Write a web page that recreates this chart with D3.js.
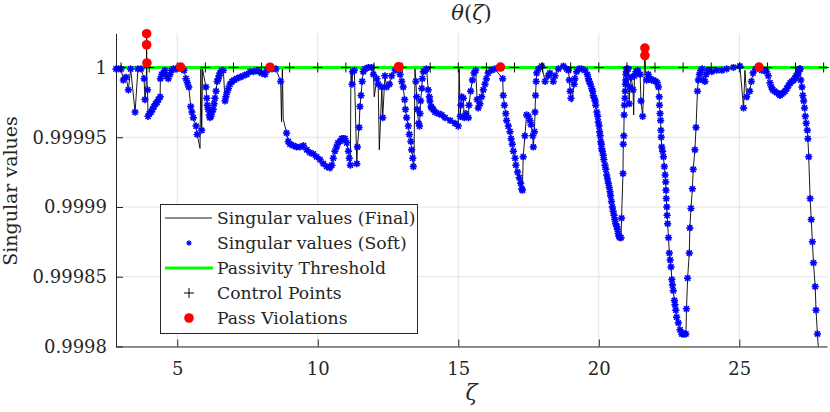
<!DOCTYPE html>
<html><head><meta charset="utf-8">
<script src="https://cdn.jsdelivr.net/npm/d3@7"></script>
<style>
html,body{margin:0;padding:0;background:#fff;}
svg{display:block;}
text{font-family:'DejaVu Serif',serif;fill:#262626;}
</style></head>
<body>
<svg id="c" width="830" height="412"></svg>
<script>
// ---- data ----
const xTicks = [5, 10, 15, 20, 25];
const yTicks = [0.9998, 0.99985, 0.9999, 0.99995, 1];
const yTickLabels = ["0.9998", "0.99985", "0.9999", "0.99995", "1"];
const threshold = 1;
const controlZeta = [3,4,5,6,7,8,9,10,11,12,13,14,15,16,17,18,19,20,21,22,23,24,25,26,27,28];
const violationZeta = [3.91, 3.91, 3.92, 5.12, 8.30, 12.87, 12.90, 16.50, 21.64, 21.64, 25.70];
const violationVal  = [1.0000242, 1.0000163, 1.0000032, 1.0000003, 1.0000002, 1.0000004, 1.0000002, 1.0000003, 1.0000139, 1.0000086, 1.0000003];
// Singular values (Soft) — marker points [zeta, value]
const softPts = [
[2.82,0.999999],[2.91,0.999999],[3.00,0.999999],[3.08,0.999991],[3.18,0.999993],[3.26,0.999984],[3.34,0.999999],[3.50,0.999968],[3.60,0.999999],[3.71,0.999999],[3.82,0.999992],[3.85,0.999977],
[3.94,0.999984],[3.96,0.999965],[4.01,0.999967],[4.07,0.999968],[4.12,0.999970],[4.17,0.999972],[4.23,0.999974],[4.28,0.999975],[4.33,0.999977],[4.39,0.999979],[4.40,0.999992],[4.45,0.999995],[4.50,0.999996],[4.56,0.999998],[4.62,0.999994],[4.68,0.999992],[4.74,0.999995],[4.80,0.999998],[4.86,0.999999],[4.95,0.999999],[5.06,1.000000],[5.17,0.999999],
[5.24,0.999998],[5.31,0.999992],[5.36,0.999989],[5.41,0.999986],[5.48,0.999972],[5.52,0.999968],[5.57,0.999964],[5.67,0.999958],[5.71,0.999952],[5.87,0.999955],[6.02,0.999986],[6.05,0.999978],[6.07,0.999973],[6.10,0.999970],[6.14,0.999966],[6.16,0.999964],[6.20,0.999965],[6.24,0.999968],[6.28,0.999970],[6.31,0.999974],[6.34,0.999978],[6.38,0.999983],[6.42,0.999990],[6.46,0.999992],[6.49,0.999994],[6.52,0.999996],[6.58,0.999998],[6.64,0.999998],
[6.70,0.999976],[6.73,0.999979],[6.77,0.999982],[6.82,0.999985],[6.88,0.999988],[6.95,0.999990],[7.02,0.999991],[7.11,0.999992],[7.23,0.999993],[7.34,0.999994],[7.47,0.999995],[7.59,0.999997],[7.71,0.999997],[7.83,0.999998],[7.91,0.999997],[8.00,0.999996],[8.12,0.999995],[8.19,0.999998],[8.37,0.999999],[8.51,0.999999],
[8.68,0.999990],[8.89,0.999953],[8.95,0.999947],[9.01,0.999945],[9.13,0.999944],[9.25,0.999943],[9.37,0.999943],[9.49,0.999944],[9.61,0.999941],[9.72,0.999939],[9.84,0.999938],[9.96,0.999936],[10.08,0.999934],[10.20,0.999931],[10.32,0.999929],[10.43,0.999928],[10.50,0.999930],[10.55,0.999935],[10.61,0.999940],[10.67,0.999943],[10.72,0.999946],[10.79,0.999947],[10.85,0.999949],[10.91,0.999949],[10.97,0.999949],[11.03,0.999946],[11.09,0.999940],[11.12,0.999935],[11.16,0.999930],
[11.22,0.999988],[11.24,0.999997],[11.30,0.999998],[11.39,0.999931],[11.41,0.999943],[11.47,0.999957],[11.50,0.999972],[11.54,0.999980],[11.58,0.999990],[11.62,0.999997],[11.68,0.999999],[11.80,1.000000],[11.92,1.000000],[11.98,0.999995],[12.10,0.999992],[12.15,0.999988],[12.28,0.999986],[12.31,0.999964],[12.39,0.999994],[12.45,0.999986],[12.55,0.999988],[12.63,0.999994],[12.75,0.999998],
[12.93,0.999995],[12.99,0.999990],[13.04,0.999986],[13.09,0.999977],[13.12,0.999970],[13.16,0.999964],[13.22,0.999958],[13.26,0.999952],[13.31,0.999947],[13.34,0.999941],[13.38,0.999935],[13.40,0.999929],[13.49,0.999990],[13.52,0.999979],[13.54,0.999970],[13.59,0.999960],[13.62,0.999958],[13.64,0.999967],[13.66,0.999976],[13.70,0.999985],[13.72,0.999992],[13.76,0.999997],[13.82,0.999998],[13.87,0.999999],
[13.93,0.999984],[13.97,0.999979],[13.99,0.999976],[14.03,0.999972],[14.05,0.999971],[14.11,0.999970],[14.17,0.999968],[14.29,0.999967],[14.41,0.999966],[14.53,0.999964],[14.71,0.999962],[14.88,0.999960],[15.00,0.999958],[15.07,0.999965],[15.09,0.999973],[15.12,0.999979],[15.18,0.999978],[15.21,0.999964],[15.27,0.999967],[15.36,0.999964],[15.38,0.999973],[15.44,0.999983],[15.50,0.999991],[15.56,0.999996],[15.62,0.999998],[15.67,0.999977],[15.71,0.999971],[15.77,0.999974],[15.83,0.999979],[15.89,0.999984],[15.95,0.999988],[16.00,0.999992],[16.06,0.999996],[16.18,0.999998],[16.30,0.999999],
[16.58,0.999992],[16.60,0.999980],[16.64,0.999973],[16.69,0.999967],[16.72,0.999962],[16.78,0.999958],[16.84,0.999954],[16.88,0.999949],[16.92,0.999945],[16.96,0.999940],[17.02,0.999935],[17.05,0.999930],[17.11,0.999925],[17.17,0.999921],[17.22,0.999917],[17.26,0.999913],[17.28,0.999912],[17.31,0.999936],[17.37,0.999951],[17.43,0.999966],[17.49,0.999965],[17.55,0.999962],[17.59,0.999959],[17.65,0.999951],[17.67,0.999943],[17.71,0.999954],[17.73,0.999968],[17.75,0.999980],[17.77,0.999990],[17.79,0.999996],[17.85,0.999999],[17.97,1.000001],[18.09,0.999990],[18.20,0.999994],[18.26,0.999996],[18.38,0.999990],[18.44,0.999994],[18.56,0.999999],[18.74,1.000001],[18.86,0.999999],[18.92,0.999998],[18.95,0.999991],[18.98,0.999983],[19.01,0.999978],[19.12,0.999988],[19.15,0.999992],[19.21,0.999997],[19.30,0.999999],[19.39,0.999999],[19.51,0.999998],
[19.59,0.999995],[19.63,0.999992],[19.66,0.999990],[19.70,0.999988],[19.75,0.999985],[19.78,0.999983],[19.80,0.999980],[19.84,0.999978],[19.87,0.999976],[19.89,0.999973],[19.93,0.999968],[19.96,0.999965],[19.98,0.999961],[20.01,0.999958],[20.03,0.999954],[20.05,0.999951],[20.07,0.999947],[20.09,0.999945],[20.10,0.999942],[20.13,0.999940],[20.16,0.999937],[20.18,0.999934],[20.22,0.999930],[20.25,0.999927],[20.28,0.999923],[20.31,0.999920],[20.34,0.999917],[20.37,0.999914],[20.40,0.999911],[20.42,0.999908],[20.45,0.999904],[20.48,0.999900],[20.51,0.999897],[20.54,0.999894],[20.57,0.999891],[20.60,0.999888],[20.64,0.999886],[20.66,0.999884],[20.69,0.999881],[20.72,0.999879],[20.75,0.999878],[20.79,0.999878],[20.81,0.999892],[20.86,0.999924],[20.87,0.999945],[20.89,0.999951],[20.90,0.999966],[20.91,0.999973],[20.93,0.999978],[20.94,0.999983],[20.95,0.999988],[20.96,0.999991],[20.97,0.999995],[20.98,0.999997],[21.00,0.999999],[21.04,0.999999],
[21.08,0.999974],[21.10,0.999986],[21.15,0.999993],[21.22,0.999984],[21.27,0.999994],[21.32,0.999997],[21.39,0.999998],[21.47,0.999995],[21.50,0.999976],[21.56,0.999965],[21.70,0.999991],[21.76,0.999995],[21.82,0.999992],[21.88,0.999991],[21.94,0.999991],[22.03,0.999990],[22.08,0.999989],[22.12,0.999986],
[22.15,0.999979],[22.16,0.999973],[22.18,0.999967],[22.20,0.999962],[22.21,0.999955],[22.22,0.999950],[22.24,0.999943],[22.27,0.999940],[22.30,0.999936],[22.33,0.999929],[22.36,0.999923],[22.38,0.999918],[22.39,0.999912],[22.40,0.999906],[22.42,0.999900],[22.43,0.999894],[22.45,0.999888],[22.48,0.999878],[22.51,0.999867],[22.54,0.999862],[22.57,0.999857],[22.60,0.999848],[22.62,0.999844],[22.65,0.999840],[22.69,0.999833],[22.71,0.999830],[22.74,0.999826],[22.77,0.999821],[22.83,0.999817],[22.89,0.999812],[22.95,0.999809],[23.00,0.999809],[23.04,0.999809],[23.10,0.999809],[23.12,0.999827],[23.16,0.999849],[23.22,0.999867],[23.24,0.999885],[23.28,0.999899],[23.33,0.999913],[23.36,0.999927],[23.42,0.999941],[23.46,0.999957],[23.51,0.999983],[23.54,0.999991],[23.58,0.999995],[23.63,0.999998],[23.68,0.999999],[23.72,0.999991],[23.78,0.999990],[23.82,0.999995],[23.90,0.999998],[24.02,0.999997],[24.20,0.999998],[24.38,0.999998],[24.55,0.999999],[24.79,1.000000],[25.02,1.000001],
[25.15,0.999971],[25.26,0.999979],[25.37,0.999983],[25.43,0.999990],[25.49,0.999996],[25.58,0.999999],[25.80,0.999998],[25.88,0.999998],[25.97,0.999997],[26.03,0.999994],[26.09,0.999989],[26.14,0.999986],[26.19,0.999984],[26.25,0.999983],[26.33,0.999982],[26.40,0.999981],[26.45,0.999980],[26.51,0.999981],[26.57,0.999982],[26.63,0.999983],[26.69,0.999985],[26.75,0.999987],[26.81,0.999989],[26.87,0.999990],[26.93,0.999991],[26.98,0.999992],[27.02,0.999994],[27.07,0.999995],[27.11,0.999997],[27.14,0.999999],[27.17,0.999999],[27.19,0.999991],[27.23,0.999986],[27.26,0.999980],[27.29,0.999976],[27.32,0.999971],[27.35,0.999965],[27.38,0.999960],[27.42,0.999955],[27.44,0.999949],[27.47,0.999936],[27.52,0.999906],[27.56,0.999891],[27.60,0.999875],[27.64,0.999860],[27.70,0.999843],[27.73,0.999826],[27.78,0.999809]
];
// Singular values (Final) — points where the final curve departs from the soft markers
const finalExtraPts = [
[3.90,0.999990],[3.91,1.0000242],[3.92,0.999992],
[5.81,0.999942],[5.84,0.999999],[5.90,0.999999],
[8.71,0.999961],[8.74,0.999999],[8.77,0.999963],
[11.18,0.999999],
[12.01,0.999979],[12.19,0.999941],
[13.42,0.999927],[13.46,0.999999],
[15.03,0.999999],
[19.04,0.999975],
[21.24,0.999966],[21.62,0.999998],[21.64,1.000014],[21.66,0.999998],
[25.20,0.999998],[25.31,0.999977],
[27.82,0.999797]
];

// ---- layout ----
const L = 116, R = 827, T = 33.3, B = 346.5;
const x = d3.scaleLinear().domain([2.82, 28.12]).range([L, R]);
const y = d3.scaleLinear().domain([0.9998, 1.0000245]).range([B, T]);
const svg = d3.select('#c');

svg.append('defs').append('clipPath').attr('id','clip')
  .append('rect').attr('x', L).attr('y', T).attr('width', R - L).attr('height', B - T);

// grid
const grid = svg.append('g').attr('stroke', '#e3e3e3').attr('stroke-width', 1);
grid.selectAll('line.v').data(xTicks).join('line').attr('class','v')
  .attr('x1', d => x(d)).attr('x2', d => x(d)).attr('y1', T).attr('y2', B);
grid.selectAll('line.h').data(yTicks).join('line').attr('class','h')
  .attr('x1', L).attr('x2', R).attr('y1', d => y(d)).attr('y2', d => y(d));

// axes
const fs = 18;
const ax = svg.append('g').attr('transform', `translate(0,${B})`)
  .call(d3.axisBottom(x).tickValues(xTicks).tickFormat(d3.format('d')).tickSizeInner(-7).tickSizeOuter(0).tickPadding(15.5));
const ay = svg.append('g').attr('transform', `translate(${L},0)`)
  .call(d3.axisLeft(y).tickValues(yTicks).tickFormat((d, i) => yTickLabels[i]).tickSizeInner(-7).tickSizeOuter(0).tickPadding(9));
[ax, ay].forEach(g => {
  g.select('.domain').attr('stroke', '#262626').attr('stroke-width', 1);
  g.selectAll('.tick line').attr('stroke', '#262626').attr('stroke-width', 1);
  g.selectAll('.tick text').attr('font-family', "'DejaVu Serif', serif").attr('font-size', fs).attr('fill', '#262626');
});

// threshold
svg.append('line').attr('x1', L).attr('x2', R).attr('y1', y(threshold)).attr('y2', y(threshold))
  .attr('stroke', '#00ff00').attr('stroke-width', 3);

// final line
const finalPts = softPts.concat(finalExtraPts).slice().sort((a, b) => a[0] - b[0]);
const line = d3.line().x(d => x(d[0])).y(d => y(d[1]));
svg.append('path').datum(finalPts).attr('d', line).attr('clip-path', 'url(#clip)')
  .attr('fill', 'none').attr('stroke', '#000').attr('stroke-width', 0.9).attr('stroke-linejoin', 'round');

// soft markers (asterisks)
const star = 'M0,-3.6V3.6M-3.6,0H3.6M-2.6,-2.6L2.6,2.6M-2.6,2.6L2.6,-2.6';
const mk = svg.append('g');
mk.selectAll('circle').data(softPts).join('circle')
  .attr('cx', d => x(d[0])).attr('cy', d => y(d[1])).attr('r', 3.2)
  .attr('fill', '#6b6bff').attr('fill-opacity', 0.35);
mk.selectAll('path').data(softPts).join('path')
  .attr('transform', d => `translate(${x(d[0])},${y(d[1])})`)
  .attr('d', star).attr('fill', 'none').attr('stroke', '#0000ff').attr('stroke-width', 1.5);

// control points
const plus = 'M-5,0H5M0,-5V5';
svg.append('g').selectAll('path').data(controlZeta).join('path')
  .attr('transform', d => `translate(${x(d)},${y(threshold)})`)
  .attr('d', plus).attr('stroke', '#000').attr('stroke-width', 1);

// violations
svg.append('g').selectAll('circle').data(violationZeta).join('circle')
  .attr('cx', d => x(d)).attr('cy', (d, i) => y(violationVal[i])).attr('r', 4.8).attr('fill', '#ff0000');

// title and labels
const title = svg.append('text').attr('x', (L + R) / 2).attr('y', 20).attr('text-anchor', 'middle').attr('font-size', 21);
title.append('tspan').attr('font-style', 'italic').text('θ');
title.append('tspan').text('(');
title.append('tspan').attr('font-style', 'italic').text('ζ');
title.append('tspan').text(')');
svg.append('text').attr('x', (L + R) / 2).attr('y', 400).attr('text-anchor', 'middle').attr('font-size', 22).attr('font-style', 'italic').text('ζ');
svg.append('text').attr('transform', `translate(17,191) rotate(-90)`).attr('text-anchor', 'middle').attr('font-size', 19).text('Singular values');

// legend
const lg = svg.append('g');
lg.append('rect').attr('x', 160.5).attr('y', 204.5).attr('width', 257).attr('height', 129).attr('fill', '#fff').attr('stroke', '#262626').attr('stroke-width', 1);
const items = ['Singular values (Final)', 'Singular values (Soft)', 'Passivity Threshold', 'Control Points', 'Pass Violations'];
const rowY = [218, 243, 268, 293, 318];
lg.append('line').attr('x1', 165).attr('x2', 212).attr('y1', rowY[0]).attr('y2', rowY[0]).attr('stroke', '#000').attr('stroke-width', 0.9);
lg.append('circle').attr('cx', 189).attr('cy', rowY[1]).attr('r', 2.4).attr('fill', '#6b6bff').attr('fill-opacity', 0.35);
lg.append('path').attr('transform', `translate(189,${rowY[1]}) scale(0.75)`).attr('d', star).attr('fill', 'none').attr('stroke', '#0000ff').attr('stroke-width', 1.5);
lg.append('line').attr('x1', 165).attr('x2', 213).attr('y1', rowY[2]).attr('y2', rowY[2]).attr('stroke', '#00ff00').attr('stroke-width', 3);
lg.append('path').attr('transform', `translate(189,${rowY[3]})`).attr('d', plus).attr('stroke', '#000').attr('stroke-width', 1);
lg.append('circle').attr('cx', 189).attr('cy', rowY[4]).attr('r', 4.8).attr('fill', '#ff0000');
lg.selectAll('text').data(items).join('text')
  .attr('x', 217).attr('y', (d, i) => rowY[i]).attr('dy', '0.36em').attr('font-size', 17.2).text(d => d);
</script>
</body></html>
